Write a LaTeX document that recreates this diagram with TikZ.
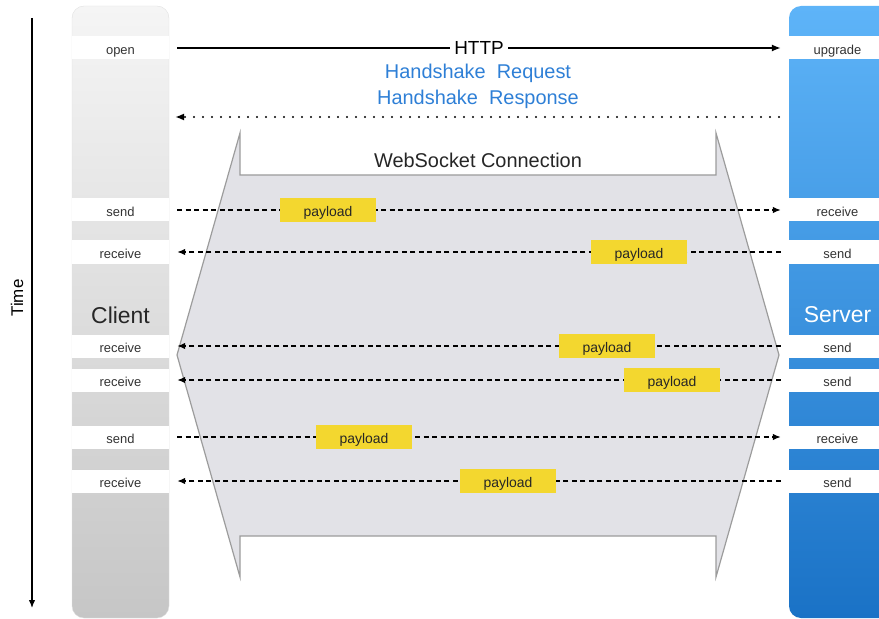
\documentclass[tikz,border=0pt]{standalone}
\usepackage{fontspec}
\setmainfont{Liberation Sans}
\usetikzlibrary{arrows.meta}
\definecolor{clienttop}{HTML}{F5F5F5}
\definecolor{clientbot}{HTML}{C6C6C6}
\definecolor{servertop}{HTML}{5EB4F8}
\definecolor{serverbot}{HTML}{1A72C6}
\definecolor{hsblue}{HTML}{2E7FD6}
\definecolor{payyellow}{HTML}{F3D72F}
\definecolor{wsfill}{HTML}{E2E2E7}
\definecolor{wsline}{HTML}{9C9C9C}
\tikzstyle{band}=[fill=white,minimum width=97bp,minimum height=23bp,inner sep=0pt,text height=15bp,text depth=2bp,text=black!80,font=\fontsize{13}{15}\selectfont]
\tikzstyle{payload}=[fill=payyellow,minimum width=96bp,minimum height=24bp,inner sep=0pt,text height=15.5bp,text depth=2bp,text=black!85,font=\fontsize{14}{16}\selectfont]
\tikzstyle{msg}=[line width=1.4bp,dash pattern=on 5bp off 3.5bp,shorten <=8bp,shorten >=8bp,-{Latex[length=8bp,width=6.5bp]}]
\tikzstyle{bigtext}=[font=\fontsize{20}{24}\selectfont]

\begin{document}
\begin{tikzpicture}[x=1bp,y=-1bp]
	\useasboundingbox (0,0) rectangle (879,619);
	\clip (0,0) rectangle (879,619);
	% time axis
	\draw[line width=1.3bp,-{Latex[length=8bp,width=6.5bp]}] (32,18) -- (32,608);
	\node[rotate=90,font=\fontsize{17}{20}\selectfont] (time) at (17,298) {Time};
	% the two columns
	\shade[top color=clienttop,bottom color=clientbot,rounded corners=12bp,draw=black!12] (72,6) rectangle (169,618);
	\shade[top color=servertop,bottom color=serverbot,rounded corners=12bp] (789,6) rectangle (900,618);
	\node[font=\fontsize{23}{26}\selectfont,text=black!85] (client) at (120.5,315) {Client};
	\node[font=\fontsize{23}{26}\selectfont,text=white] (server) at (837.5,315) {Server};
	\node[band] (copen) at (120.5,48) {open};
	\node[band] (supgrade) at (837.5,48) {upgrade};
		\foreach \n / \y / \t in {1/210/send,2/252/receive,3/346/receive,4/380/receive,5/437/send,6/481/receive} { \node[band] (c\n) at (120.5,\y) {\t};}
		\foreach \n / \y / \t in {1/210/receive,2/252/send,3/346/send,4/380/send,5/437/receive,6/481/send} { \node[band] (s\n) at (837.5,\y) {\t};}
	% handshake
	\draw[line width=1.4bp,shorten <=8bp,shorten >=8bp,-{Latex[length=9bp,width=7bp]}] (copen.east) -- node[fill=white,font=\fontsize{19}{22}\selectfont,inner sep=4bp] (http) {HTTP} (supgrade.west);
	\node[bigtext,text=hsblue] (hsreq) at (478,73) {Handshake\ \ Request};
	\node[bigtext,text=hsblue] (hsres) at (478,99) {Handshake\ \ Response};
	\coordinate (chs) at (169,117);
	\coordinate (shs) at (789,117);
	\draw[line width=2.4bp,line cap=round,dash pattern=on 0bp off 9bp,shorten <=10bp,shorten >=6bp,-{Latex[length=9bp,width=7bp]}] (shs) -- (chs);
	% websocket connection
	\draw[fill=wsfill,draw=wsline,line width=1.2bp,line join=miter] (240,133) -- (240,175) -- (716,175) -- (716,133) -- (779,355) -- (716,577) -- (716,536) -- (240,536) -- (240,577) -- (177,355) -- cycle;
	\node[bigtext,text=black!85] (ws) at (478,160) {WebSocket Connection};
	% messages
		\foreach \n in {1,5} { \draw[msg] (c\n.east) -- (s\n.west);}
		\foreach \n in {2,3,4,6} { \draw[msg] (s\n.west) -- (c\n.east);}
		\foreach \n / \x / \y in {1/328/210,2/639/252,3/607/346,4/672/380,5/364/437,6/508/481} { \node[payload] (p\n) at (\x,\y) {payload};}
\end{tikzpicture}
\end{document}
